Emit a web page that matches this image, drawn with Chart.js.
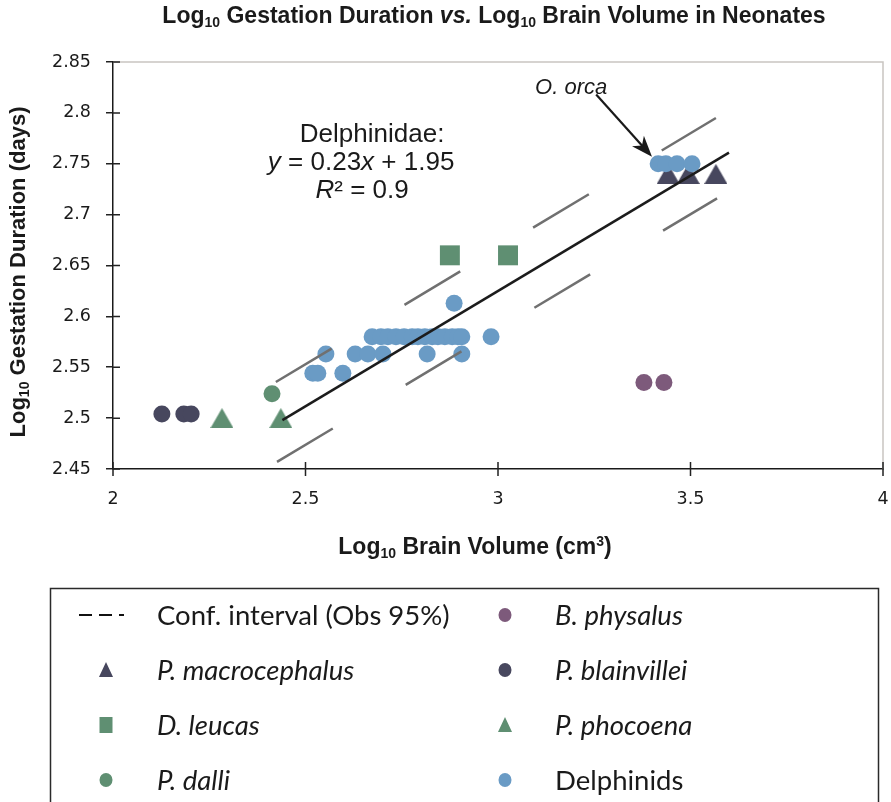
<!DOCTYPE html>
<html>
<head>
<meta charset="utf-8">
<script src="https://cdn.jsdelivr.net/npm/chart.js@4"></script>
<style>
  html, body { margin: 0; background: #fff; }
  #wrap { width: 891px; height: 802px; }
</style>
</head>
<body>
<div id="wrap"><canvas id="chart" width="891" height="802"></canvas></div>
<script>
// ─── Data ────────────────────────────────────────────────────────────────────
const xTickStep = 0.5;
const yTickStep = 0.05;
const xLimits = [2, 4];
const yLimits = [2.45, 2.85];

const delphX = [3.416, 3.436, 3.465, 3.504,
  2.673, 2.696, 2.714, 2.735, 2.756, 2.777, 2.792, 2.810, 2.829, 2.844, 2.862, 2.881, 2.896, 2.906, 2.982,
  2.553, 2.629, 2.662, 2.701, 2.816, 2.906,
  2.519, 2.532, 2.597,
  2.886];
const delphY = [2.75, 2.75, 2.75, 2.75,
  2.58, 2.58, 2.58, 2.58, 2.58, 2.58, 2.58, 2.58, 2.58, 2.58, 2.58, 2.58, 2.58, 2.58, 2.58,
  2.563, 2.563, 2.563, 2.563, 2.563, 2.563,
  2.544, 2.544, 2.544,
  2.613];

const macroX = [3.442, 3.494, 3.566];
const macroY = [2.74, 2.74, 2.74];
const leucasX = [2.875, 3.026];
const leucasY = [2.66, 2.66];
const dalliX = [2.413];
const dalliY = [2.524];
const physalusX = [3.379, 3.431];
const physalusY = [2.535, 2.535];
const blainX = [2.127, 2.184, 2.203];
const blainY = [2.504, 2.504, 2.504];
const phocoenaX = [2.283, 2.436];
const phocoenaY = [2.5, 2.5];

// Delphinidae regression and observation 95% interval
const fitX = [2.44, 3.6];
const fitY = [2.498, 2.761];
const ciUpX = [2.423, 3.566];
const ciUpY = [2.5355, 2.795];
const ciLoX = [2.426, 3.569];
const ciLoY = [2.457, 2.716];

// legend columns (labels)
const legendLeft = ['Conf. interval (Obs 95%)', 'P. macrocephalus', 'D. leucas', 'P. dalli'];
const legendRight = ['B. physalus', 'P. blainvillei', 'P. phocoena', 'Delphinids'];

// ─── Styles ──────────────────────────────────────────────────────────────────
const BLUE = '#6a9bc5';
const GREEN = '#5f8f72';
const NAVY = '#47475e';
const PURPLE = '#7d5a7b';

const pts = (xs, ys) => xs.map((x, i) => ({ x, y: ys[i] }));

// Excel-like triangle marker, centred on its bounding box
function triangleImg(color, w, h) {
  const c = document.createElement('canvas');
  c.width = w; c.height = h;
  const g = c.getContext('2d');
  g.fillStyle = color;
  g.beginPath();
  g.moveTo(w / 2, 0);
  g.lineTo(w, h);
  g.lineTo(0, h);
  g.closePath();
  g.fill();
  return c;
}

function scatterSet(label, xs, ys, color, style, radius) {
  return {
    label,
    data: pts(xs, ys),
    backgroundColor: color,
    borderColor: color,
    borderWidth: 0,
    pointStyle: style,
    pointRadius: radius,
    pointHoverRadius: radius,
    showLine: false,
    order: 1,
  };
}

function lineSet(label, xs, ys, color, dash) {
  return {
    label,
    data: pts(xs, ys),
    borderColor: color,
    borderWidth: 2.5,
    borderDash: dash,
    pointRadius: 0,
    showLine: true,
    fill: false,
    order: 0,
  };
}

const datasets = [
  lineSet('fit', fitX, fitY, '#1c1c1c', []),
  lineSet('ciUp', ciUpX, ciUpY, '#707070', [65, 85]),
  lineSet('ciLo', ciLoX, ciLoY, '#707070', [65, 85]),
  scatterSet('Delphinids', delphX, delphY, BLUE, 'circle', 8.5),
  scatterSet('P. macrocephalus', macroX, macroY, NAVY, triangleImg(NAVY, 23, 20), 10),
  scatterSet('D. leucas', leucasX, leucasY, GREEN, 'rect', 14.1),
  scatterSet('P. dalli', dalliX, dalliY, GREEN, 'circle', 8.5),
  scatterSet('B. physalus', physalusX, physalusY, PURPLE, 'circle', 8.5),
  scatterSet('P. blainvillei', blainX, blainY, NAVY, 'circle', 8.5),
  scatterSet('P. phocoena', phocoenaX, phocoenaY, GREEN, triangleImg(GREEN, 23, 20), 10),
];

// ─── Text helpers ────────────────────────────────────────────────────────────
function runsWidth(ctx, runs) {
  let w = 0;
  runs.forEach(r => { ctx.font = r.font; w += ctx.measureText(r.t).width; });
  return w;
}

function drawRuns(ctx, runs, cx, cy) {
  let x = cx - runsWidth(ctx, runs) / 2;
  ctx.textAlign = 'left';
  ctx.textBaseline = 'middle';
  runs.forEach(r => {
    ctx.font = r.font;
    ctx.fillText(r.t, x, cy + (r.dy || 0));
    x += ctx.measureText(r.t).width;
  });
}

const SANS = '"Liberation Sans", Arial, sans-serif';
const LEG = 'Lato, "Open Sans", sans-serif';

function legendMarker(ctx, label, x, y) {
  const ds = datasets.find(d => d.label === label);
  ctx.save();
  if (!ds) {
    // dashed line sample for the interval
    ctx.strokeStyle = '#111';
    ctx.lineWidth = 2;
    ctx.beginPath();
    ctx.moveTo(x - 27, y); ctx.lineTo(x - 14, y);
    ctx.moveTo(x - 7, y); ctx.lineTo(x + 6, y);
    ctx.moveTo(x + 13, y); ctx.lineTo(x + 18, y);
    ctx.stroke();
  } else {
    ctx.fillStyle = ds.backgroundColor;
    ctx.beginPath();
    if (ds.pointStyle === 'circle') {
      ctx.ellipse(x, y, 6.5, 7, 0, 0, Math.PI * 2);
    } else if (ds.pointStyle === 'rect') {
      ctx.rect(x - 6.5, y - 8, 13, 16);
    } else {
      ctx.moveTo(x, y - 8); ctx.lineTo(x + 7, y + 7); ctx.lineTo(x - 7, y + 7); ctx.closePath();
    }
    ctx.fill();
  }
  ctx.restore();
}

const italicLabels = new Set(['P. macrocephalus', 'D. leucas', 'P. dalli', 'B. physalus', 'P. blainvillei', 'P. phocoena']);

// ─── Overlay plugin: frame, crossing ticks, titles, notes, legend ──────────────
const overlay = {
  id: 'overlay',
  beforeDraw(chart) {
    const { ctx, width, height } = chart;
    ctx.save();
    ctx.fillStyle = '#fff';
    ctx.fillRect(0, 0, width, height);
    ctx.restore();
  },
  beforeDatasetsDraw(chart) {
    const { ctx, chartArea: a, scales } = chart;
    ctx.save();
    // light top/right frame
    ctx.strokeStyle = '#c9c5c1';
    ctx.lineWidth = 1.5;
    ctx.beginPath();
    ctx.moveTo(a.left, a.top); ctx.lineTo(a.right, a.top); ctx.lineTo(a.right, a.bottom);
    ctx.stroke();
    // ticks crossing the axis lines
    ctx.strokeStyle = '#222';
    ctx.lineWidth = 1.5;
    ctx.beginPath();
    scales.y.ticks.forEach(t => {
      const py = scales.y.getPixelForValue(t.value);
      ctx.moveTo(a.left, py); ctx.lineTo(a.left + 7, py);
    });
    scales.x.ticks.forEach(t => {
      const px = scales.x.getPixelForValue(t.value);
      ctx.moveTo(px, a.bottom + 7); ctx.lineTo(px, a.bottom - 7);
    });
    ctx.stroke();
    ctx.restore();
  },
  afterDraw(chart) {
    const { ctx, scales } = chart;
    const sx = scales.x, sy = scales.y;
    ctx.save();
    ctx.fillStyle = '#1a1a1a';

    // chart title
    const T = 'bold 23px ' + SANS, TS = 'bold 14px ' + SANS;
    drawRuns(ctx, [
      { t: 'Log', font: T }, { t: '10', font: TS, dy: 6 }, { t: ' Gestation Duration ', font: T },
      { t: 'vs.', font: 'italic bold 23px ' + SANS }, { t: ' Log', font: T }, { t: '10', font: TS, dy: 6 },
      { t: ' Brain Volume in Neonates', font: T },
    ], 494, 17);

    // x axis title
    const B = 'bold 22px ' + SANS, BS = 'bold 14px ' + SANS;
    drawRuns(ctx, [
      { t: 'Log', font: 'bold 23px ' + SANS }, { t: '10', font: BS, dy: 6 }, { t: ' Brain Volume (cm', font: 'bold 23px ' + SANS },
      { t: '3', font: BS, dy: -6 }, { t: ')', font: 'bold 23px ' + SANS },
    ], 475, 548);

    // y axis title
    ctx.save();
    ctx.translate(19, 272);
    ctx.rotate(-Math.PI / 2);
    drawRuns(ctx, [
      { t: 'Log', font: B }, { t: '10', font: BS, dy: 6 }, { t: ' Gestation Duration (days)', font: B },
    ], 0, 0);
    ctx.restore();

    // regression note
    const N = '26px ' + SANS, NI = 'italic 26px ' + SANS;
    const nx = sx.getPixelForValue(2.673), ny = sy.getPixelForValue(2.778);
    drawRuns(ctx, [{ t: 'Delphinidae:', font: N }], nx, ny);
    drawRuns(ctx, [{ t: 'y', font: NI }, { t: ' = 0.23', font: N }, { t: 'x', font: NI }, { t: ' + 1.95', font: N }], nx - 11, ny + 28);
    drawRuns(ctx, [{ t: 'R', font: NI }, { t: '² = 0.9', font: N }], nx - 10, ny + 56);

    // O. orca label and arrow
    drawRuns(ctx, [{ t: 'O. orca', font: 'italic 22px ' + SANS }], sx.getPixelForValue(3.19), sy.getPixelForValue(2.825));
    const x0 = sx.getPixelForValue(3.255), y0 = sy.getPixelForValue(2.818);
    const x1 = sx.getPixelForValue(3.4), y1 = sy.getPixelForValue(2.757);
    const ang = Math.atan2(y1 - y0, x1 - x0);
    ctx.strokeStyle = '#1a1a1a';
    ctx.lineWidth = 2.2;
    ctx.beginPath();
    ctx.moveTo(x0, y0);
    ctx.lineTo(x1 - Math.cos(ang) * 14, y1 - Math.sin(ang) * 14);
    ctx.stroke();
    ctx.beginPath();
    ctx.moveTo(x1, y1);
    ctx.lineTo(x1 - Math.cos(ang) * 21 + Math.sin(ang) * 8, y1 - Math.sin(ang) * 21 - Math.cos(ang) * 8);
    ctx.lineTo(x1 - Math.cos(ang) * 15, y1 - Math.sin(ang) * 15);
    ctx.lineTo(x1 - Math.cos(ang) * 21 - Math.sin(ang) * 8, y1 - Math.sin(ang) * 21 + Math.cos(ang) * 8);
    ctx.closePath();
    ctx.fillStyle = '#1a1a1a';
    ctx.fill();

    // legend box
    ctx.strokeStyle = '#2a2a2a';
    ctx.lineWidth = 1.5;
    ctx.strokeRect(50.5, 588.5, 828, 240);
    const rows = [615, 670, 725, 780];
    const cols = [{ m: 106, t: 157, labels: legendLeft }, { m: 505, t: 555, labels: legendRight }];
    ctx.textAlign = 'left';
    ctx.textBaseline = 'middle';
    cols.forEach(c => {
      c.labels.forEach((lab, i) => {
        legendMarker(ctx, lab, c.m, rows[i]);
        ctx.font = (italicLabels.has(lab) ? 'italic ' : '') + '27.5px ' + LEG;
        ctx.fillStyle = '#1a1a1a';
        ctx.fillText(lab, c.t, rows[i] + 1);
      });
    });
    ctx.restore();
  },
};

// ─── Chart ───────────────────────────────────────────────────────────────────
const tickLabel = v => String(+v.toFixed(2));
const axisLine = { display: true, color: '#1a1a1a', width: 1.5 };

new Chart(document.getElementById('chart').getContext('2d'), {
  type: 'scatter',
  data: { datasets },
  options: {
    responsive: false,
    animation: false,
    layout: { autoPadding: false, padding: { top: 62, right: 8, bottom: 293, left: 0 } },
    plugins: { legend: { display: false }, tooltip: { enabled: false }, title: { display: false } },
    scales: {
      x: {
        type: 'linear',
        min: xLimits[0], max: xLimits[1],
        border: axisLine,
        // ticks drawn by the overlay; the long invisible tick sets the label gap
        grid: { display: true, drawOnChartArea: false, drawTicks: true, tickLength: 20, color: 'rgba(0,0,0,0)' },
        ticks: { stepSize: xTickStep, callback: tickLabel, color: '#1a1a1a', padding: 0, font: { family: 'DejaVu Sans', size: 17.5 } },
        afterFit(s) { s.height = 40; },
      },
      y: {
        type: 'linear',
        min: yLimits[0], max: yLimits[1],
        border: axisLine,
        grid: { display: true, drawOnChartArea: false, drawTicks: true, tickLength: 7, color: '#222', lineWidth: 1.5 },
        ticks: { stepSize: yTickStep, callback: tickLabel, color: '#1a1a1a', padding: 15, font: { family: 'DejaVu Sans', size: 17.5 } },
        afterFit(s) { s.width = 113; },
      },
    },
  },
  plugins: [overlay],
});
</script>
</body>
</html>
